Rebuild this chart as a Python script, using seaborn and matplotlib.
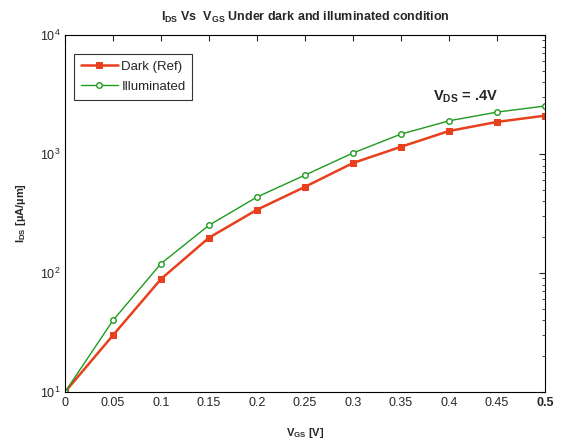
import matplotlib
matplotlib.use("Agg")
import matplotlib.pyplot as plt
import seaborn as sns
import numpy as np
import pandas as pd
from matplotlib.ticker import LogLocator, FixedLocator, NullFormatter

vgs = [0, 0.05, 0.1, 0.15, 0.2, 0.25, 0.3, 0.35, 0.4, 0.45, 0.5]
dark = [10, 30, 89, 198, 340, 530, 840, 1150, 1560, 1860, 2100]
illum = [10, 40, 120, 252, 435, 665, 1020, 1470, 1900, 2250, 2530]
xtick_labels = ["0", "0.05", "0.1", "0.15", "0.2", "0.25", "0.3", "0.35", "0.4", "0.45", "0.5"]

sns.set_style("white")
plt.rcParams['font.family'] = ['Liberation Sans', 'DejaVu Sans']
plt.rcParams['mathtext.fontset'] = 'custom'
plt.rcParams['mathtext.rm'] = 'Liberation Sans:bold'
plt.rcParams['mathtext.bf'] = 'Liberation Sans:bold'

df = pd.DataFrame({"vgs": vgs, "Dark (Ref)": dark, "Illuminated": illum})

fig = plt.figure(figsize=(5.61, 4.43), dpi=100)
ax = fig.add_axes([65/561, 51/443, 480/561, 357/443])

red = "#e8401c"
green = "#1f9a1f"
sns.lineplot(data=df, x="vgs", y="Dark (Ref)", ax=ax, color=red, lw=1.8,
             marker="s", markersize=3.8, markeredgecolor=red, markerfacecolor=red,
             label="Dark (Ref)")
sns.lineplot(data=df, x="vgs", y="Illuminated", ax=ax, color=green, lw=1.0,
             marker="o", markersize=4.0, markeredgecolor=green, markerfacecolor="white",
             markeredgewidth=1.0, label="Illuminated")

ax.set_yscale("log")
ax.set_xlim(0, 0.5)
ax.set_ylim(10, 1e4)
ax.xaxis.set_major_locator(FixedLocator(vgs))
ax.set_xticklabels(xtick_labels, fontsize=9)
for lab in ax.get_xticklabels():
    if lab.get_text() == "0.5":
        lab.set_fontweight("bold")
ax.yaxis.set_major_locator(LogLocator(base=10, numticks=10))
ax.yaxis.set_minor_locator(LogLocator(base=10, subs=np.arange(2, 10), numticks=20))
ax.yaxis.set_minor_formatter(NullFormatter())
ax.tick_params(axis="both", which="both", direction="in", top=True, right=True, labelsize=9)
ax.tick_params(which="major", length=4, width=0.8)
ax.tick_params(which="minor", length=2, width=0.6)
for s in ax.spines.values():
    s.set_color("black")
    s.set_linewidth(0.8)

ax.set_xlabel(r"V$_{\mathregular{GS}}$ [V]", fontsize=8, fontweight="bold", labelpad=12)
ax.set_ylabel(r"I$_{\mathregular{DS}}$ [µA/µm]", fontsize=8, fontweight="bold", labelpad=8)
ax.set_title(r"I$_{\mathregular{DS}}$ Vs  V$_{\mathregular{GS}}$ Under dark and illuminated condition",
             fontsize=9, fontweight="bold", pad=10)

ax.text(0.383, 2800, r"V$_{\mathregular{DS}}$ = .4V", fontsize=10.5, fontweight="bold")

leg = ax.legend(loc="upper left", bbox_to_anchor=(0.005, 0.965), fontsize=9.5, frameon=True,
                fancybox=False, edgecolor="black", handlelength=2.8, borderpad=0.5,
                labelspacing=0.6, handletextpad=0.3)
leg.get_frame().set_linewidth(0.8)

fig.savefig("out.png", dpi=100, facecolor="white")
